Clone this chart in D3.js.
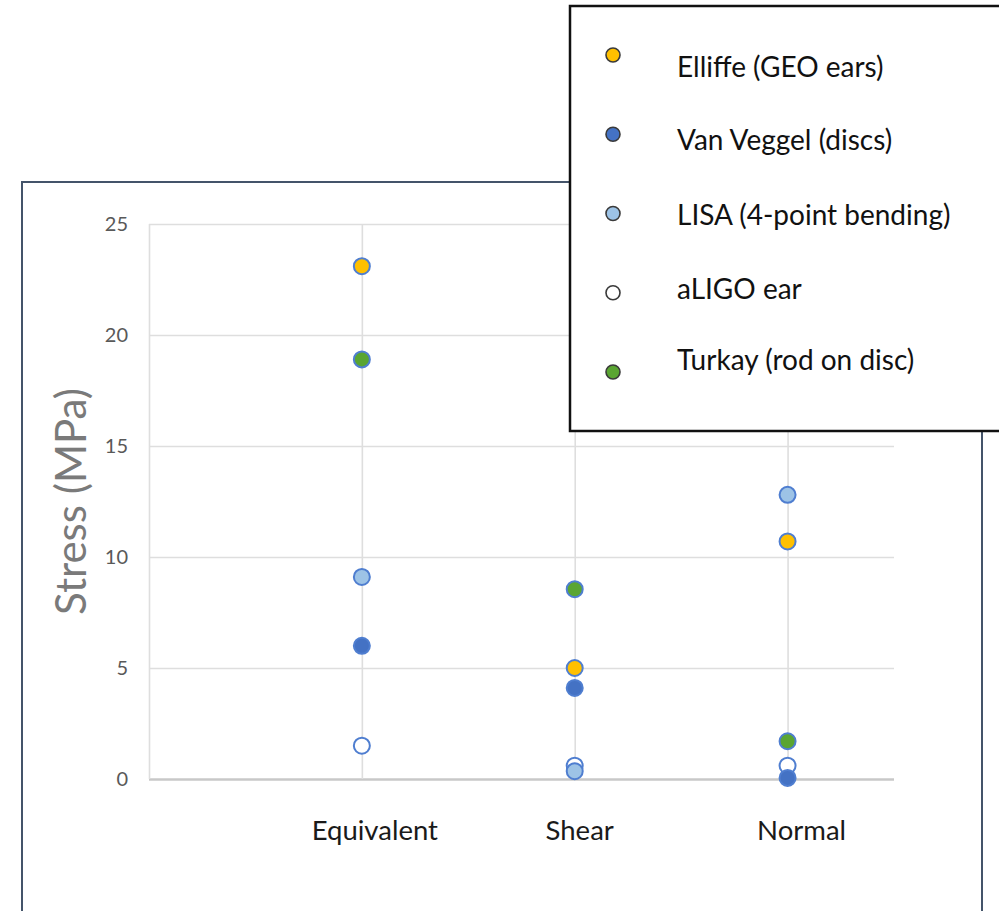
<!DOCTYPE html>
<html>
<head>
<meta charset="utf-8">
<script src="https://cdn.jsdelivr.net/npm/d3@7/dist/d3.min.js"></script>
<style>
  html, body { margin: 0; padding: 0; background: #fff; }
  svg { display: block; }
</style>
</head>
<body>
<svg id="chart" width="999" height="911"></svg>
<script>
// Stress categories (placed at x = 1, 2, 3 on a 0–3.5 value axis)
const categories = ["Equivalent", "Shear", "Normal"];
const categoryX = [1, 2, 3];
const yTicks = [0, 5, 10, 15, 20, 25];

// Series, in legend order
const seriesNames = [
  "Elliffe (GEO ears)",
  "Van Veggel (discs)",
  "LISA (4-point bending)",
  "aLIGO ear",
  "Turkay (rod on disc)"
];
const seriesFill = ["#ffc000", "#4472c4", "#9dc3e6", "#ffffff", "#5aa532"];

// Stress values (MPa) per series: [Equivalent, Shear, Normal]
const elliffe   = [23.1, 5.0, 10.7];
const vanVeggel = [6.0, 4.1, 0.05];
const lisa      = [9.1, 0.35, 12.8];
const aligo     = [1.5, 0.6, 0.6];
const turkay    = [18.9, 8.55, 1.7];

const seriesValues = [elliffe, vanVeggel, lisa, aligo, turkay];
// paint order: the open aLIGO markers sit underneath the others
const drawOrder = [3, 0, 1, 2, 4];

const svg = d3.select("#chart");
const FONT = "Lato, 'Open Sans', 'DejaVu Sans', sans-serif";

// chart frame
svg.append("rect")
  .attr("x", 22).attr("y", 182)
  .attr("width", 960).attr("height", 760)
  .attr("fill", "#fff")
  .attr("stroke", "#44546a").attr("stroke-width", 2);

const plot = { left: 149, right: 894, top: 224, bottom: 779 };

const x = d3.scaleLinear().domain([0, 3.5]).range([plot.left, plot.right]);
const y = d3.scaleLinear().domain([0, 25]).range([plot.bottom, plot.top]);

const g = svg.append("g");

// horizontal gridlines
g.append("g")
  .attr("transform", `translate(${plot.left},0)`)
  .call(d3.axisLeft(y).tickValues(yTicks).tickSize(-(plot.right - plot.left)).tickFormat(""))
  .call(a => a.select(".domain").remove())
  .call(a => a.selectAll("line")
    .attr("stroke", d => d === 0 ? "#c8c8c8" : "#dedede")
    .attr("stroke-width", d => d === 0 ? 2.5 : 1.6));

// vertical gridlines at x = 0 and at each category
g.append("g")
  .attr("transform", `translate(0,${plot.bottom})`)
  .call(d3.axisBottom(x).tickValues([0].concat(categoryX)).tickSize(-(plot.bottom - plot.top)).tickFormat(""))
  .call(a => a.select(".domain").remove())
  .call(a => a.selectAll("line").attr("stroke", "#dedede").attr("stroke-width", 1.6));

// y tick labels
g.append("g")
  .selectAll("text")
  .data(yTicks)
  .join("text")
  .attr("x", plot.left - 21)
  .attr("y", d => y(d))
  .attr("dy", "0.35em")
  .attr("text-anchor", "end")
  .attr("font-family", FONT)
  .attr("font-size", 20)
  .attr("fill", "#595959")
  .text(d => d);

// y axis title
svg.append("text")
  .attr("transform", `translate(86,${(plot.top + plot.bottom) / 2}) rotate(-90)`)
  .attr("text-anchor", "middle")
  .attr("font-family", FONT)
  .attr("font-size", 42)
  .attr("fill", "#7a7a7a")
  .text("Stress (MPa)");

// category labels
const labelShift = [13, 5, 14];
svg.append("g")
  .selectAll("text")
  .data(categories)
  .join("text")
  .attr("x", (d, i) => x(categoryX[i]) + labelShift[i])
  .attr("y", 840)
  .attr("text-anchor", "middle")
  .attr("font-family", FONT)
  .attr("font-size", 27.5)
  .attr("fill", "#1a1a1a")
  .text(d => d);

// markers
const points = [];
drawOrder.forEach(s => {
  seriesValues[s].forEach((v, i) => points.push({ s, cx: categoryX[i], v }));
});

svg.append("g")
  .selectAll("circle")
  .data(points)
  .join("circle")
  .attr("cx", d => x(d.cx))
  .attr("cy", d => y(d.v))
  .attr("r", 8)
  .attr("fill", d => seriesFill[d.s])
  .attr("stroke", "#4f7ed0")
  .attr("stroke-width", 2);

// legend box
const lg = svg.append("g");
lg.append("rect")
  .attr("x", 570).attr("y", 6)
  .attr("width", 460).attr("height", 425)
  .attr("fill", "#fff")
  .attr("stroke", "#111").attr("stroke-width", 2.5);

const legendY = d3.scalePoint().domain(d3.range(seriesNames.length)).range([55, 372]);
const legendTextY = [67, 140, 215, 289, 360];

seriesNames.forEach((name, i) => {
  lg.append("circle")
    .attr("cx", 613).attr("cy", legendY(i))
    .attr("r", 7)
    .attr("fill", seriesFill[i])
    .attr("stroke", "#3a3a3a").attr("stroke-width", 1.6);
  lg.append("text")
    .attr("x", 677).attr("y", legendTextY[i])
    .attr("dy", "0.35em")
    .attr("font-family", FONT)
    .attr("font-size", 28)
    .attr("fill", "#111")
    .text(name);
});
</script>
</body>
</html>
